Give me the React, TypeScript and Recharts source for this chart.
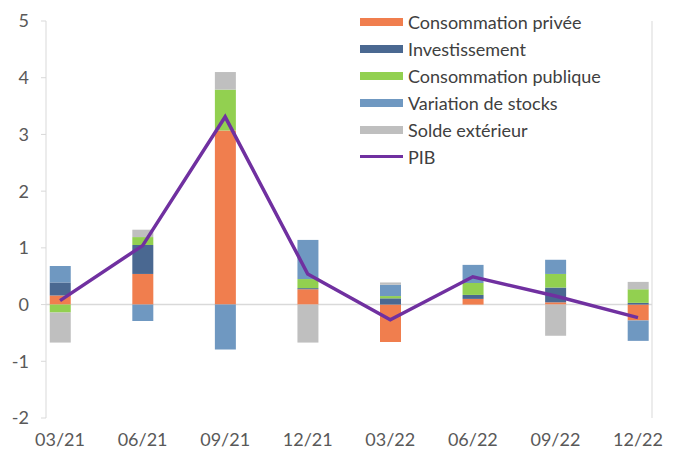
import React from 'react';
import {
  ComposedChart,
  Bar,
  Line,
  XAxis,
  YAxis,
  CartesianGrid,
  Legend,
} from 'recharts';

const quarters = ['03/21', '06/21', '09/21', '12/21', '03/22', '06/22', '09/22', '12/22'];
const consoPrivee = [0.16, 0.54, 3.07, 0.27, -0.66, 0.1, 0.04, -0.28];
const investissement = [0.23, 0.51, 0.0, 0.02, 0.11, 0.07, 0.26, 0.03];
const consoPublique = [-0.14, 0.14, 0.72, 0.16, 0.04, 0.21, 0.24, 0.24];
const variationStocks = [0.29, -0.29, -0.79, 0.69, 0.2, 0.32, 0.25, -0.36];
const soldeExterieur = [-0.53, 0.13, 0.31, -0.67, 0.04, 0.0, -0.55, 0.13];
const pib = [0.07, 1.04, 3.31, 0.54, -0.27, 0.49, 0.15, -0.23];
const yTicks = [-2, -1, 0, 1, 2, 3, 4, 5];

const seriesNames = [
  'Consommation privée',
  'Investissement',
  'Consommation publique',
  'Variation de stocks',
  'Solde extérieur',
];
const seriesKeys = ['cp', 'inv', 'cpub', 'stk', 'sol'];
const seriesColors = ['#F07E4E', '#4A6891', '#92D050', '#6F98C1', '#BFBFBF'];
const pibColor = '#7030A0';

const data = quarters.map((q, i) => ({
  idx: i,
  q,
  cp: consoPrivee[i],
  inv: investissement[i],
  cpub: consoPublique[i],
  stk: variationStocks[i],
  sol: soldeExterieur[i],
  pib: pib[i],
}));

const FONT = 'Lato, "Open Sans", sans-serif';
const axisColor = '#D9D9D9';
const tickStyle = { fill: '#595959', fontSize: 18, fontFamily: FONT };

const LegendContent = () => (
  <div style={{ fontFamily: FONT, fontSize: 18, color: '#404040' }}>
    {seriesNames.map((n, i) => (
      <div key={n} style={{ display: 'flex', alignItems: 'center', height: 27 }}>
        <div style={{ width: 43, height: 8, background: seriesColors[i], marginRight: 5 }} />
        <span style={{ whiteSpace: 'nowrap' }}>{n}</span>
      </div>
    ))}
    <div style={{ display: 'flex', alignItems: 'center', height: 27 }}>
      <div style={{ width: 43, height: 3, background: pibColor, marginRight: 5 }} />
      <span>PIB</span>
    </div>
  </div>
);

export default function App() {
  return (
    <div style={{ position: 'absolute', left: 0, top: 0, background: '#fff' }}>
      <ComposedChart
        width={690}
        height={454}
        data={data}
        stackOffset="sign"
        margin={{ top: 21, right: 0, bottom: 0, left: 0 }}
      >
        <CartesianGrid
          yAxisId="left"
          vertical={false}
          horizontalValues={[0]}
          stroke={axisColor}
          strokeWidth={1.5}
        />
        <XAxis
          dataKey="idx"
          type="number"
          domain={[-0.17, 7.17]}
          ticks={[0, 1, 2, 3, 4, 5, 6, 7]}
          tickFormatter={(v: number) => quarters[v] ?? ''}
          axisLine={false}
          tickLine={false}
          tickSize={6}
          tickMargin={9}
          height={36}
          tick={tickStyle}
          interval={0}
        />
        <YAxis
          yAxisId="left"
          domain={[-2, 5]}
          ticks={yTicks}
          width={46}
          axisLine={{ stroke: axisColor }}
          tickLine={{ stroke: axisColor }}
          tickSize={5}
          tickMargin={12}
          tick={tickStyle}
          interval={0}
        />
        <YAxis
          yAxisId="right"
          orientation="right"
          domain={[-2, 5]}
          ticks={yTicks}
          width={38}
          axisLine={{ stroke: axisColor }}
          tickLine={{ stroke: axisColor }}
          tickSize={5}
          tickMargin={13}
          tick={tickStyle}
          interval={0}
        />
        {seriesKeys.map((k, i) => (
          <Bar
            key={k}
            yAxisId="left"
            dataKey={k}
            name={seriesNames[i]}
            stackId="a"
            fill={seriesColors[i]}
            barSize={21}
            isAnimationActive={false}
          />
        ))}
        <Line
          yAxisId="left"
          dataKey="pib"
          name="PIB"
          stroke={pibColor}
          strokeWidth={3.5}
          dot={false}
          isAnimationActive={false}
        />
        <Legend
          layout="vertical"
          align="center"
          verticalAlign="middle"
          content={<LegendContent />}
          wrapperStyle={{ top: 8, left: 360, width: 300 }}
        />
      </ComposedChart>
    </div>
  );
}
